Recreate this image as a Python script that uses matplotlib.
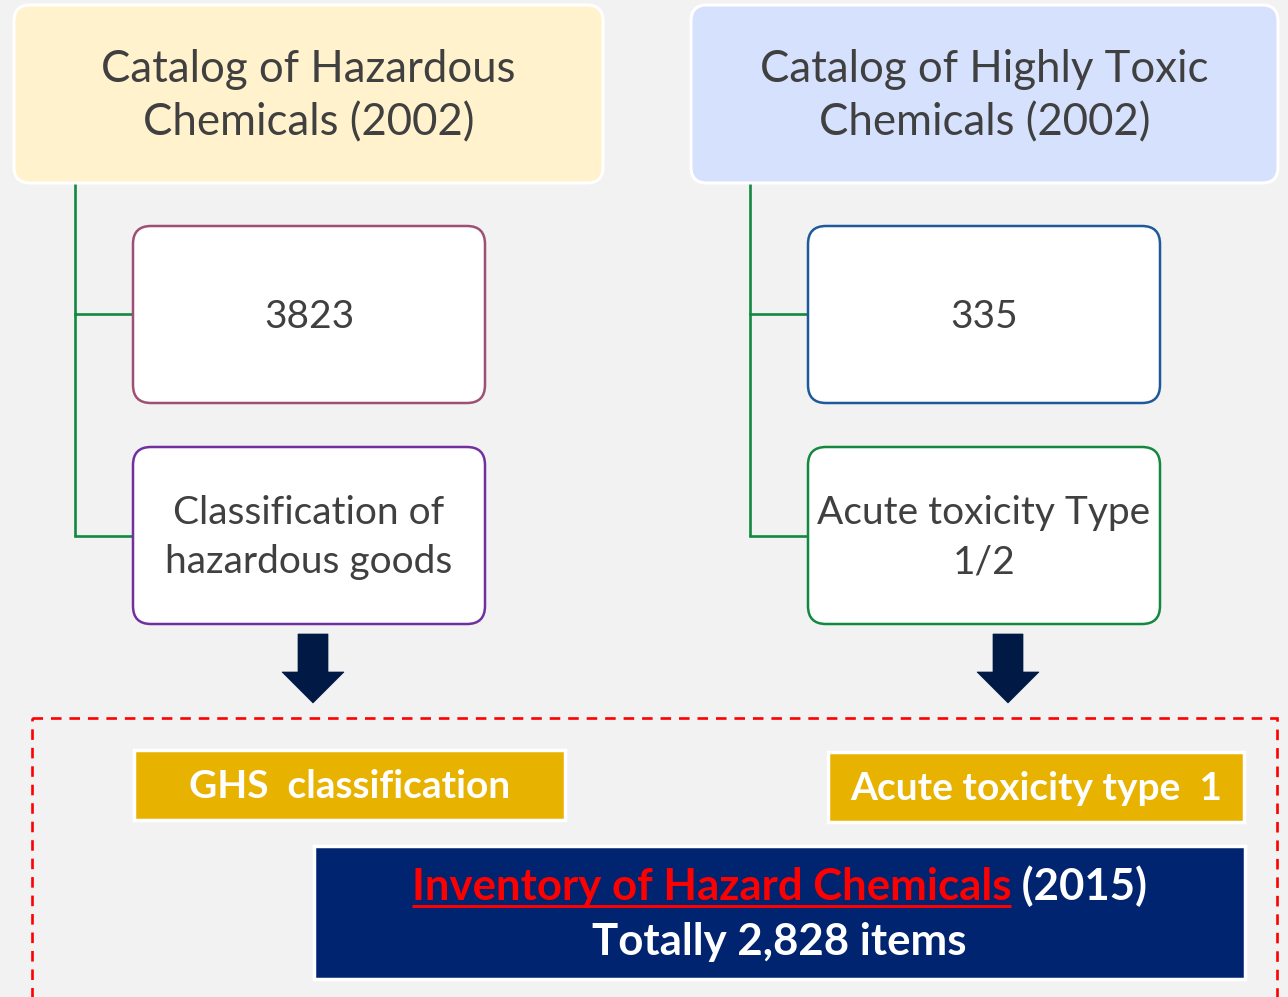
import matplotlib
matplotlib.use("Agg")
import matplotlib.pyplot as plt
from matplotlib.patches import FancyBboxPatch, Rectangle, FancyArrow

# ── Content ───────────────────────────────────────────────────────────────────
CATALOG_TITLES = ["Catalog of Hazardous\nChemicals (2002)",
                  "Catalog of Highly Toxic\nChemicals (2002)"]
CATALOG_COUNTS = ["3823", "335"]
CATALOG_SCOPE = ["Classification of\nhazardous goods",
                 "Acute toxicity Type\n1/2"]
NEW_CRITERIA = ["GHS  classification", "Acute toxicity type  1"]
INVENTORY_NAME = "Inventory of Hazard Chemicals"
INVENTORY_YEAR = "(2015)"
INVENTORY_TOTAL = "Totally 2,828 items"

# ── Layout (pixel coords, y downwards) ────────────────────────────────────────
W, H = 1288, 997
BG = "#F2F2F2"
TEXT = "#404040"
FONT = "Lato"

TITLE_BOXES = [(14, 5, 589, 178), (691, 5, 587, 178)]
TITLE_FILLS = ["#FFF2CC", "#D5E1FD"]
COUNT_BOXES = [(133, 226, 352, 177), (808, 226, 352, 177)]
COUNT_EDGES = ["#9E4F74", "#20599B"]
SCOPE_BOXES = [(133, 447, 352, 177), (808, 447, 352, 177)]
SCOPE_EDGES = ["#7030A0", "#12893E"]
TREE_X = [75, 750]
TREE_COLOR = "#12893E"
ARROW_X = [313, 1008]
ARROW_COLOR = "#001A45"
GOLD_BOXES = [(134, 750, 431, 70), (828, 752, 416, 70)]
GOLD = "#E8B200"
NAVY_BOX = (314, 846, 931, 133)
NAVY = "#00246F"


def px(pt):
    return pt * 100 / 72


def rbox(ax, box, fc, ec, lw, r=18):
    x, y, w, h = box
    ax.add_patch(FancyBboxPatch((x, y), w, h,
                                boxstyle=f"round,pad=0,rounding_size={r}",
                                fc=fc, ec=ec, lw=lw, zorder=2))


def lines_text(ax, cx, cy, label, size, spacing, weight="normal", color=TEXT):
    parts = label.split("\n")
    cap = 0.72 * px(size)
    mid = cy + cap / 2
    n = len(parts)
    for i, s in enumerate(parts):
        ax.text(cx, mid + (i - (n - 1) / 2) * spacing, s, ha="center",
                va="baseline", fontsize=size, color=color, family=FONT,
                weight=weight, zorder=4)


def main():
    fig = plt.figure(figsize=(W / 100, H / 100), dpi=100, facecolor=BG)
    ax = fig.add_axes([0, 0, 1, 1])
    ax.set_xlim(0, W)
    ax.set_ylim(H, 0)
    ax.axis("off")
    ax.set_facecolor(BG)

    for i in range(2):
        # tree connectors
        tx = TREE_X[i]
        cb, sb = COUNT_BOXES[i], SCOPE_BOXES[i]
        y_top = TITLE_BOXES[i][1] + TITLE_BOXES[i][3]
        y_c = cb[1] + cb[3] / 2
        y_s = sb[1] + sb[3] / 2
        ax.plot([tx, tx], [y_top, y_s], color=TREE_COLOR, lw=1.9, zorder=1,
                solid_capstyle="butt")
        ax.plot([tx, cb[0]], [y_c, y_c], color=TREE_COLOR, lw=1.9, zorder=1)
        ax.plot([tx, sb[0]], [y_s, y_s], color=TREE_COLOR, lw=1.9, zorder=1)

        tb = TITLE_BOXES[i]
        rbox(ax, tb, TITLE_FILLS[i], "white", 2.2, r=16)
        lines_text(ax, tb[0] + tb[2] / 2, tb[1] + tb[3] / 2 - 1,
                   CATALOG_TITLES[i], 31.5, 53)

        rbox(ax, cb, "white", COUNT_EDGES[i], 1.8)
        lines_text(ax, cb[0] + cb[2] / 2, y_c - 1, CATALOG_COUNTS[i], 28, 49)

        rbox(ax, sb, "white", SCOPE_EDGES[i], 1.8)
        lines_text(ax, sb[0] + sb[2] / 2, y_s - 1, CATALOG_SCOPE[i], 28, 49)

        ax.add_patch(FancyArrow(ARROW_X[i], 634, 0, 69, width=30,
                                head_width=62, head_length=31,
                                length_includes_head=True, fc=ARROW_COLOR,
                                ec=ARROW_COLOR, lw=0.5, zorder=3))

        gb = GOLD_BOXES[i]
        ax.add_patch(Rectangle((gb[0], gb[1]), gb[2], gb[3], fc=GOLD,
                               ec="white", lw=2.5, zorder=2))
        lines_text(ax, gb[0] + gb[2] / 2, gb[1] + gb[3] / 2 - 1,
                   NEW_CRITERIA[i], 28, 49, weight="bold", color="white")

    # dashed frame around the 2015 result
    ax.add_patch(Rectangle((32, 718), 1245, 400, fc="none", ec="#FF0000",
                           lw=1.9, ls=(0, (4, 3)), zorder=1))

    nb = NAVY_BOX
    ax.add_patch(Rectangle((nb[0], nb[1]), nb[2], nb[3], fc=NAVY,
                           ec="white", lw=2.5, zorder=2))
    cx = nb[0] + nb[2] / 2

    # first line: red underlined name + white year, centred together
    size = 31.5
    base1 = 900
    renderer = fig.canvas.get_renderer()
    t_red = ax.text(0, base1, INVENTORY_NAME, ha="left", va="baseline",
                    fontsize=size, weight="bold", color="#FF0000",
                    family=FONT, zorder=4)
    t_yr = ax.text(0, base1, " " + INVENTORY_YEAR, ha="left", va="baseline",
                   fontsize=size, weight="bold", color="white",
                   family=FONT, zorder=4)
    w_red = t_red.get_window_extent(renderer).width
    w_yr = t_yr.get_window_extent(renderer).width
    x0 = cx - (w_red + w_yr) / 2
    t_red.set_x(x0)
    t_yr.set_x(x0 + w_red)
    ax.plot([x0, x0 + w_red], [base1 + 6, base1 + 6], color="#FF0000",
            lw=2.2, zorder=4, solid_capstyle="butt")

    ax.text(cx, 955, INVENTORY_TOTAL, ha="center", va="baseline",
            fontsize=size, weight="bold", color="white", family=FONT,
            zorder=4)

    fig.savefig("out.png", dpi=100, facecolor=BG)


if __name__ == "__main__":
    main()
